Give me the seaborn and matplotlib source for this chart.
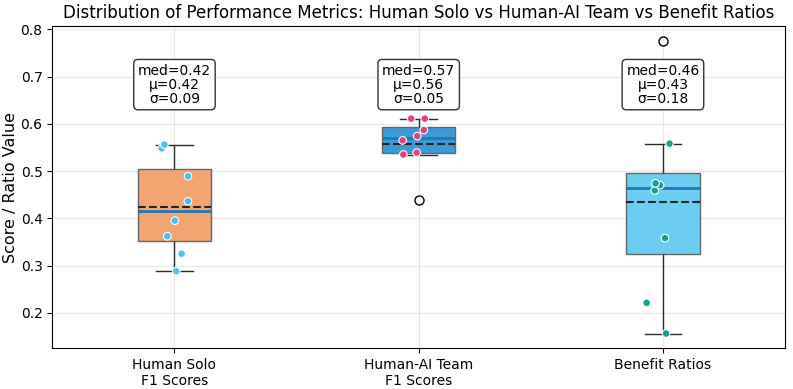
import matplotlib

matplotlib.use("Agg")
import matplotlib.pyplot as plt
import numpy as np
import pandas as pd
import seaborn as sns

# values (8 per group)
groups = ["Human Solo\nF1 Scores", "Human-AI Team\nF1 Scores", "Benefit Ratios"]
human_solo = [0.288, 0.325, 0.362, 0.395, 0.436, 0.489, 0.548, 0.556]
human_ai_team = [0.438, 0.535, 0.539, 0.565, 0.574, 0.587, 0.611, 0.611]
benefit_ratios = [0.156, 0.221, 0.358, 0.459, 0.470, 0.474, 0.558, 0.776]

box_colors = ["#F2A571", "#3C9BD6", "#6DCCF2"]
point_colors = ["#4BC0F0", "#E2437C", "#14A193"]

df = pd.DataFrame(
    {
        "group": np.repeat(groups, 8),
        "value": human_solo + human_ai_team + benefit_ratios,
    }
)


def _inliers(s: pd.Series) -> pd.Series:
    q1, q3 = s.quantile([0.25, 0.75])
    iqr = q3 - q1
    return (s >= q1 - 1.5 * iqr) & (s <= q3 + 1.5 * iqr)


# the strip points leave out the fliers, the box draws those
mask = df.groupby("group", sort=False)["value"].transform(_inliers).astype(bool)

plt.rcParams["font.family"] = ["DejaVu Sans"]
fig, ax = plt.subplots(figsize=(7.93, 3.89), dpi=100)
fig.subplots_adjust(left=0.066, right=0.990, top=0.933, bottom=0.105)

sns.boxplot(
    data=df, x="group", y="value", hue="group", palette=box_colors,
    order=groups, width=0.3, saturation=1, linecolor="#2a2a2a", linewidth=1.0,
    showmeans=True, meanline=True, legend=False, ax=ax,
    boxprops=dict(edgecolor="#666666"),
    medianprops=dict(color="#1f77b4", linewidth=2),
    meanprops=dict(color="#222222", linestyle="--", linewidth=1.5),
    flierprops=dict(marker="o", markerfacecolor="white", markeredgecolor="black", markersize=6.5),
)

np.random.seed(3)
sns.stripplot(
    data=df[mask], x="group", y="value", hue="group", palette=point_colors,
    order=groups, jitter=0.07, size=5.5, edgecolor="white", linewidth=0.8,
    legend=False, ax=ax, zorder=5,
)

# stats annotation above each box
for i, vals in enumerate([human_solo, human_ai_team, benefit_ratios]):
    v = np.asarray(vals)
    label = f"med={np.median(v):.2f}\nμ={v.mean():.2f}\nσ={v.std():.2f}"
    ax.text(i, 0.683, label, ha="center", va="center", fontsize=10, linespacing=1.0,
            bbox=dict(boxstyle="round,pad=0.3", facecolor="white", edgecolor="#333333"))

ax.grid(True, alpha=0.3)
ax.set_axisbelow(True)
ax.set_xlabel("")
ax.set_ylabel("Score / Ratio Value", fontsize=11.5, labelpad=2)
ax.set_title("Distribution of Performance Metrics: Human Solo vs Human-AI Team vs Benefit Ratios",
             fontsize=12)
ax.tick_params(labelsize=10)
ax.set_xlim(-0.5, 2.5)

fig.savefig("out.png", dpi=100)
